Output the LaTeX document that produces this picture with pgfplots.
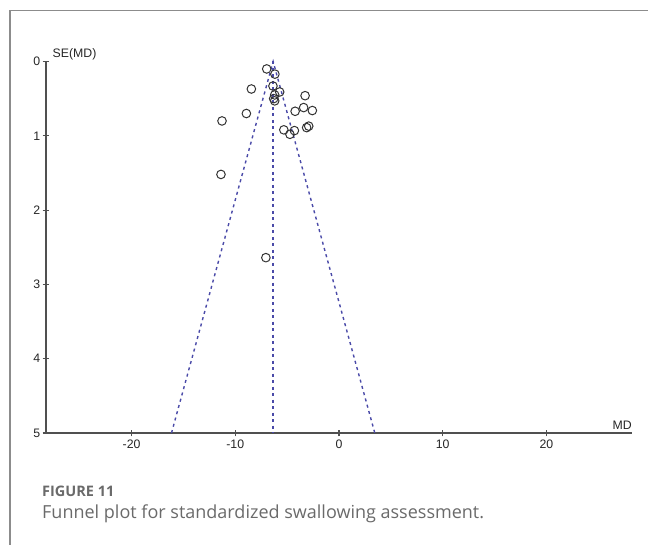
\documentclass[border=0pt]{standalone}
\usepackage{pgfplots}
\pgfplotsset{compat=1.18}
\usepackage{fontspec}
\setmainfont{Liberation Sans}
\newfontfamily\capfont{Open Sans}
\definecolor{funnelblue}{HTML}{4A4AA8}
\definecolor{axisgray}{HTML}{505050}
\definecolor{framegray}{HTML}{8C8C8C}
\definecolor{capgray}{HTML}{6A6A6A}

% study estimates: MD, SE(MD)
\pgfplotstableread{
md se
-6.97 0.10
-6.18 0.17
-6.37 0.33
-8.45 0.37
-5.72 0.41
-6.20 0.45
-6.30 0.50
-6.20 0.53
-3.27 0.46
-3.41 0.62
-2.57 0.66
-4.23 0.67
-8.93 0.70
-11.28 0.80
-5.32 0.92
-4.30 0.93
-4.73 0.98
-3.12 0.89
-2.92 0.87
-11.38 1.52
-7.05 2.64
}\studies

% pseudo 95% confidence limits around the pooled MD
\pgfplotstableread{
md se
-16.15 5
-6.35 0
3.45 5
}\limits

\begin{document}
\begin{tikzpicture}[x=1pt,y=1pt]
\begin{axis}[
  scale only axis,
  width=586pt, height=371.5pt,
  xmin=-28.25, xmax=28.25,
  ymin=0, ymax=5,
  y dir=reverse,
  axis x line=bottom,
  axis y line=left,
  axis line style={-, axisgray, line width=1.2pt},
  xtick={-20,-10,0,10,20},
  ytick={0,1,2,3,4,5},
  tick align=center,
  major tick length=6.6pt,
  tick style={axisgray, line width=1.1pt},
  ticklabel style={font=\fontsize{12.3}{14}\selectfont, text=black!85},
  /pgf/number format/assume math mode=true,
  xticklabel style={yshift=-0.5pt},
  yticklabel style={xshift=1pt},
  clip=false,
]
\addplot[funnelblue, line width=1.4pt, dash pattern=on 3pt off 3.5pt]
  table[x=md, y=se] {\limits};
\addplot[funnelblue, line width=1.4pt, dash pattern=on 3pt off 3.5pt]
  coordinates {(-6.35,0) (-6.35,5)};
\addplot[only marks, mark=o, mark size=4.3pt, black!80, mark options={line width=1pt}]
  table[x=md, y=se] {\studies};
\node[anchor=south west, font=\fontsize{12.3}{14}\selectfont, inner sep=0pt, text=black!85]
  at (axis cs:-28.25,0) [xshift=6.5pt, yshift=1.5pt] {SE(MD)};
\node[anchor=south east, font=\fontsize{12.3}{14}\selectfont, inner sep=0pt, text=black!85]
  at (axis cs:28.25,5) [yshift=3pt] {MD};
\coordinate (corner) at (axis cs:-28.25,5);
\end{axis}

% page: 648 x 545, axis corner (x=-28.25, SE=5) sits 46 in and 112 up
\pgfresetboundingbox
\useasboundingbox ([shift={(-46,-112)}]corner) rectangle ([shift={(602,433)}]corner);
\begin{scope}[shift={([shift={(-46,-112)}]corner)}]
  % figure frame
  \draw[framegray, line width=1.3pt] (10,0) -- (10,534.6) -- (648,534.6);
  \node[anchor=base west, inner sep=0pt, text=capgray, font=\capfont\fontsize{14.5}{16}\selectfont\bfseries] at (42,48) {FIGURE 11};
  \node[anchor=base west, inner sep=0pt, text=capgray, font=\capfont\fontsize{18}{21}\selectfont] at (42,26) {Funnel plot for standardized swallowing assessment.};
\end{scope}
\end{tikzpicture}
\end{document}
